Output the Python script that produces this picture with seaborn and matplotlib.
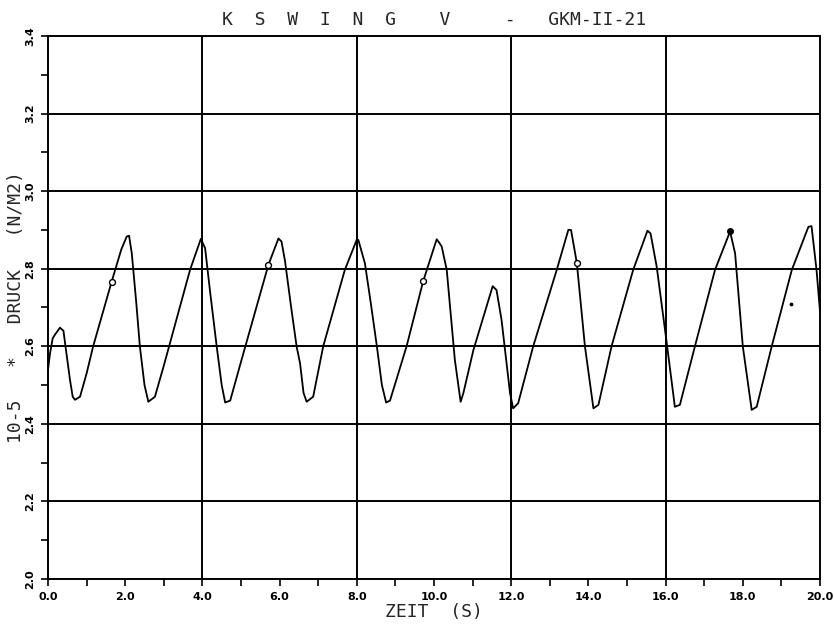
import matplotlib
matplotlib.use("Agg")
import matplotlib.pyplot as plt
import seaborn as sns
import pandas as pd
import numpy as np
from matplotlib.ticker import MultipleLocator

# ---- data ----
zeit = [0.00, 0.05, 0.12, 0.18, 0.31, 0.40, 0.48, 0.57, 0.64, 0.70, 0.83, 1.00, 1.17, 1.65, 1.90,
        2.04, 2.10, 2.17, 2.28, 2.38, 2.50, 2.60, 2.77, 3.00, 3.68, 3.96, 4.07, 4.20, 4.37, 4.50,
        4.59, 4.72, 5.00, 5.71, 5.97, 6.05, 6.14, 6.30, 6.44, 6.53, 6.62, 6.70, 6.87, 7.13, 7.69,
        8.00, 8.04, 8.21, 8.35, 8.52, 8.65, 8.76, 8.86, 9.29, 9.72, 10.07, 10.15, 10.20, 10.33,
        10.54, 10.69, 10.76, 11.02, 11.52, 11.62, 11.75, 11.97, 12.05, 12.18, 12.57, 13.18,
        13.48, 13.55, 13.70, 13.91, 14.13, 14.26, 14.60, 15.16, 15.53, 15.61, 15.77, 16.03,
        16.24, 16.37, 16.76, 17.28, 17.67, 17.80, 18.00, 18.23, 18.36, 18.75, 19.27, 19.70,
        19.78, 19.91, 20.00]
druck = [2.54, 2.58, 2.62, 2.63, 2.648, 2.64, 2.58, 2.513, 2.47, 2.462, 2.47, 2.53, 2.60, 2.767, 2.85,
         2.883, 2.885, 2.84, 2.72, 2.60, 2.50, 2.457, 2.47, 2.55, 2.797, 2.877, 2.853, 2.74, 2.60, 2.50,
         2.455, 2.46, 2.56, 2.81, 2.878, 2.87, 2.82, 2.70, 2.60, 2.556, 2.48, 2.457, 2.47, 2.60, 2.797,
         2.875, 2.874, 2.814, 2.72, 2.60, 2.50, 2.455, 2.46, 2.60, 2.768, 2.876, 2.865, 2.857, 2.797,
         2.565, 2.457, 2.479, 2.59, 2.755, 2.745, 2.668, 2.479, 2.44, 2.453, 2.60, 2.797,
         2.90, 2.90, 2.815, 2.60, 2.44, 2.449, 2.60, 2.797, 2.898, 2.891, 2.805, 2.608,
         2.444, 2.449, 2.60, 2.797, 2.896, 2.84, 2.60, 2.436, 2.444, 2.60, 2.797, 2.908,
         2.91, 2.797, 2.69]

marker_open_x = [1.65, 5.71, 9.72, 13.70]
marker_open_y = [2.767, 2.81, 2.768, 2.815]
marker_fill_x = [17.67]
marker_fill_y = [2.896]
speck_x = [19.24]
speck_y = [2.709]

x_ticks = [0, 2, 4, 6, 8, 10, 12, 14, 16, 18, 20]
x_ticklabels = ["0.0", "2.0", "4.0", "6.0", "8.0", "10.0", "12.0", "14.0", "16.0", "18.0", "20.0"]
y_ticks = [2.0, 2.2, 2.4, 2.6, 2.8, 3.0, 3.2, 3.4]
y_ticklabels = ["2.0", "2.2", "2.4", "2.6", "2.8", "3.0", "3.2", "3.4"]
x_grid = [4, 8, 12, 16]
y_grid = [2.2, 2.4, 2.6, 2.8, 3.0, 3.2]

title = "K  S  W  I  N  G    V     -   GKM-II-21"
xlabel = "ZEIT  (S)"
ylabel = "10-5   *   DRUCK   (N/M2)"

sns.set_style("white")
plt.rcParams['font.family'] = ['DejaVu Sans']

fig = plt.figure(figsize=(8.34, 6.30), dpi=100)
ax = fig.add_axes([48 / 834, 1 - 579 / 630, (820 - 48) / 834, (579 - 36) / 630])

df = pd.DataFrame({"zeit": zeit, "druck": druck})
sns.lineplot(data=df, x="zeit", y="druck", ax=ax, color="black", linewidth=1.3,
             sort=False, estimator=None, zorder=3)
ax.scatter(marker_open_x, marker_open_y, s=18, facecolors="white", edgecolors="black",
           linewidths=1.0, zorder=4)
ax.scatter(marker_fill_x, marker_fill_y, s=16, color="black", zorder=4)
ax.scatter(speck_x, speck_y, s=3, color="black", zorder=4)

for gx in x_grid:
    ax.axvline(gx, color="black", linewidth=1.4, zorder=2)
for gy in y_grid:
    ax.axhline(gy, color="black", linewidth=1.4, zorder=2)

ax.set_xlim(0, 20)
ax.set_ylim(2.0, 3.4)
ax.set_xticks(x_ticks)
ax.set_xticklabels(x_ticklabels, fontsize=8, fontweight="bold")
ax.set_yticks(y_ticks)
ax.set_yticklabels(y_ticklabels, fontsize=8, fontweight="bold", rotation=90, va="center")
ax.xaxis.set_minor_locator(MultipleLocator(1))
ax.yaxis.set_minor_locator(MultipleLocator(0.1))
ax.tick_params(axis="both", which="major", direction="out", length=5, width=1.2, pad=4,
               bottom=True, left=True, colors="black")
ax.tick_params(axis="both", which="minor", direction="out", length=5, width=1.2,
               bottom=True, left=True, colors="black")

for sp in ax.spines.values():
    sp.set_visible(True)
    sp.set_color("black")
    sp.set_linewidth(1.4)

mono = ['DejaVu Sans Mono']
ax.set_xlabel(xlabel, fontsize=13, labelpad=1, family=mono)
ax.set_ylabel(ylabel, fontsize=13, labelpad=0, family=mono)
ax.set_title(title, fontsize=13, pad=8, family=mono)

fig.savefig("out.png", dpi=100, facecolor="white")
